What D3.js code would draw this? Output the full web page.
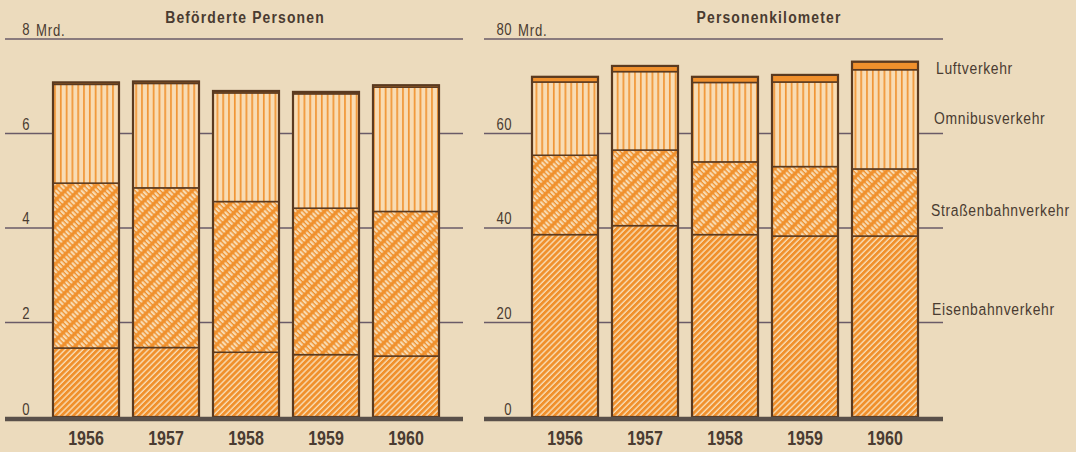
<!DOCTYPE html>
<html>
<head>
<meta charset="utf-8">
<script src="https://cdn.jsdelivr.net/npm/d3@7"></script>
<style>
  html, body { margin: 0; padding: 0; background: #ecdbbd; }
  svg { display: block; }
  text { fill: #4a3b31; font-family: 'Liberation Sans', Arial, sans-serif; }
</style>
</head>
<body>
<div id="chart"></div>
<script>
// --- data ---
const years = ["1956", "1957", "1958", "1959", "1960"];
const layers = ["Eisenbahnverkehr", "Straßenbahnverkehr", "Omnibusverkehr", "Luftverkehr"];

// Beförderte Personen, Mrd.
const personenEisenbahn = [1.46, 1.47, 1.37, 1.32, 1.29];
const personenStrassenbahn = [3.49, 3.38, 3.19, 3.10, 3.06];
const personenOmnibus = [2.09, 2.21, 2.30, 2.42, 2.63];
const personenLuft = [0.04, 0.04, 0.04, 0.04, 0.04];

// Personenkilometer, Mrd.
const kmEisenbahn = [38.6, 40.5, 38.6, 38.3, 38.3];
const kmStrassenbahn = [16.8, 16.0, 15.4, 14.7, 14.2];
const kmOmnibus = [15.5, 16.6, 16.8, 17.9, 21.0];
const kmLuft = [1.1, 1.2, 1.2, 1.5, 1.7];

const personenTicks = [0, 2, 4, 6, 8];
const kmTicks = [0, 20, 40, 60, 80];

// --- setup ---
const width = 1076, height = 452;
const orange = "#f0902c", cream = "#f8dcb4", dark = "#5a3a20", gridCol = "#6a5b68";
const NARROW = 0.82; // squeeze Liberation Sans to a narrow face

const svg = d3.select("#chart").append("svg").attr("width", width).attr("height", height);
const defs = svg.append("defs");

// diagonal stripes "/" (Eisenbahn)
const pEisen = defs.append("pattern").attr("id", "p-eisen").attr("patternUnits", "userSpaceOnUse")
  .attr("width", 4.2).attr("height", 4).attr("patternTransform", "rotate(45)");
pEisen.append("rect").attr("width", 4.2).attr("height", 4).attr("fill", orange);
pEisen.append("rect").attr("x", 2.8).attr("width", 1.4).attr("height", 4).attr("fill", cream);

// hatched (Straßenbahn): solid "/" lines with cream dashes between
const pStrassen = defs.append("pattern").attr("id", "p-strassen").attr("patternUnits", "userSpaceOnUse")
  .attr("width", 9).attr("height", 3.6).attr("patternTransform", "rotate(45)");
pStrassen.append("rect").attr("width", 9).attr("height", 3.6).attr("fill", orange);
pStrassen.append("rect").attr("x", 2.4).attr("y", 0.5).attr("width", 6).attr("height", 2.1)
  .attr("rx", 1).attr("fill", cream);

// vertical stripes (Omnibus)
const pOmni = defs.append("pattern").attr("id", "p-omni").attr("patternUnits", "userSpaceOnUse")
  .attr("width", 5.8).attr("height", 10);
pOmni.append("rect").attr("width", 5.8).attr("height", 10).attr("fill", cream);
pOmni.append("rect").attr("x", 2).attr("width", 1.6).attr("height", 10).attr("fill", orange);

const fills = {
  "Eisenbahnverkehr": "url(#p-eisen)",
  "Straßenbahnverkehr": "url(#p-strassen)",
  "Omnibusverkehr": "url(#p-omni)",
  "Luftverkehr": orange
};

const narrow = (x, y) => `translate(${x},${y}) scale(${NARROW},1)`;

function drawPanel(opt) {
  const rows = years.map((yr, i) => ({
    year: yr,
    "Eisenbahnverkehr": opt.series[0][i],
    "Straßenbahnverkehr": opt.series[1][i],
    "Omnibusverkehr": opt.series[2][i],
    "Luftverkehr": opt.series[3][i]
  }));
  const stacked = d3.stack().keys(layers)(rows);

  const x = d3.scaleBand().domain(years).range(opt.bandRange).paddingInner(0.175).paddingOuter(0.0875);
  const y = d3.scaleLinear().domain([0, opt.max]).range([417, 39]);

  const g = svg.append("g");

  // gridlines + top line
  g.selectAll("line.grid").data(opt.ticks.filter(t => t > 0)).join("line")
    .attr("x1", opt.axis[0]).attr("x2", opt.axis[1])
    .attr("y1", d => y(d)).attr("y2", d => y(d))
    .attr("stroke", gridCol).attr("stroke-width", 1.3);

  // tick labels
  g.selectAll("text.tick").data(opt.ticks).join("text")
    .attr("transform", d => narrow(opt.labelX, d === 0 ? y(d) - 2 : y(d) - 4))
    .attr("text-anchor", "end")
    .style("font-size", "16px").style("letter-spacing", "0.6px")
    .text(d => d);
  g.append("text").attr("transform", narrow(opt.labelX + 6, y(opt.max) - 3))
    .style("font-size", "16px").style("letter-spacing", "1px")
    .text("Mrd.");

  // title
  g.append("text").attr("transform", narrow(opt.titleX, 23)).attr("text-anchor", "middle")
    .style("font-weight", "bold").style("font-size", "17px").style("letter-spacing", "1.4px")
    .text(opt.title);

  // stacked segments
  stacked.forEach(layer => {
    g.append("g").selectAll("rect").data(layer).join("rect")
      .attr("x", d => x(d.data.year)).attr("width", x.bandwidth())
      .attr("y", d => y(d[1])).attr("height", d => y(d[0]) - y(d[1]))
      .attr("fill", fills[layer.key])
      .attr("stroke", dark).attr("stroke-width", 1.5);
  });

  // bar outlines
  const top = stacked[stacked.length - 1];
  g.append("g").selectAll("rect").data(top).join("rect")
    .attr("x", d => x(d.data.year)).attr("width", x.bandwidth())
    .attr("y", d => y(d[1])).attr("height", d => y(0) - y(d[1]))
    .attr("fill", "none").attr("stroke", dark).attr("stroke-width", 2.2);

  // baseline
  g.append("line").attr("x1", opt.axis[0]).attr("x2", opt.axis[1])
    .attr("y1", 419).attr("y2", 419)
    .attr("stroke", "#59504a").attr("stroke-width", 4.5);

  // year labels
  g.selectAll("text.year").data(years).join("text")
    .attr("transform", d => narrow(x(d) + x.bandwidth() / 2, 445))
    .attr("text-anchor", "middle")
    .style("font-weight", "bold").style("font-size", "19.5px")
    .text(d => d);

  return { x, y };
}

drawPanel({
  title: "Beförderte Personen", titleX: 245,
  series: [personenEisenbahn, personenStrassenbahn, personenOmnibus, personenLuft],
  max: 8, ticks: personenTicks,
  bandRange: [46, 446], axis: [5, 463], labelX: 30
});

drawPanel({
  title: "Personenkilometer", titleX: 769,
  series: [kmEisenbahn, kmStrassenbahn, kmOmnibus, kmLuft],
  max: 80, ticks: kmTicks,
  bandRange: [525, 925], axis: [484, 943], labelX: 512
});

// legend labels beside the right panel
const legendY = { "Luftverkehr": 74, "Omnibusverkehr": 124, "Straßenbahnverkehr": 216, "Eisenbahnverkehr": 315 };
const legendX = { "Luftverkehr": 936, "Omnibusverkehr": 934, "Straßenbahnverkehr": 931, "Eisenbahnverkehr": 932 };
svg.append("g").selectAll("text").data(layers).join("text")
  .attr("transform", d => narrow(legendX[d], legendY[d]))
  .style("font-size", "17px").style("letter-spacing", "0.8px")
  .text(d => d);
</script>
</body>
</html>
